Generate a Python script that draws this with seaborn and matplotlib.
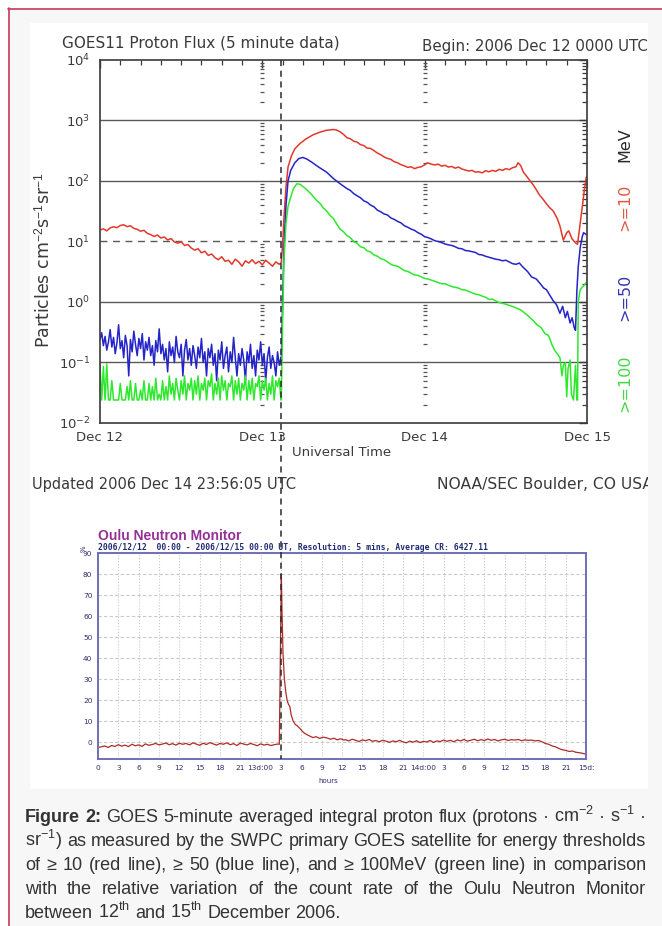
import numpy as np
import pandas as pd
import matplotlib.pyplot as plt
import seaborn as sns
from matplotlib.lines import Line2D
from matplotlib.patches import Rectangle
from matplotlib.ticker import FixedLocator, MultipleLocator, LogLocator, NullFormatter

W, H = 662, 926

# ---------------- data (hours after 2006-12-12 00:00 UT) ----------------
flare_hour = 26.8
pre_hours = np.arange(0, 27, 0.5)      # coarse pre-flare samples
pre_fine = np.arange(0, 27, 0.25)      # finer pre-flare samples

# GOES >=10 MeV, >=50 MeV, >=100 MeV  (particles cm-2 s-1 sr-1)
red_pre = [15.5, 16.2, 15.0, 16.8, 17.5, 16.9, 18.4, 18.9, 17.6, 18.2, 16.5, 15.9, 14.8, 15.3,
           13.6, 13.0, 12.1, 12.8, 11.4, 11.9, 10.6, 11.2, 9.8, 9.4, 9.9, 8.6, 8.9, 7.8, 7.2, 7.6,
           6.5, 6.9, 5.9, 6.2, 5.4, 5.0, 5.6, 4.7, 4.9, 4.2, 5.1, 4.6, 3.9, 4.8, 4.4, 5.0, 4.3, 4.7,
           4.1, 4.9, 4.4, 3.9, 4.6, 4.2]
blue_pre = [0.24, 0.31, 0.19, 0.27, 0.16, 0.22, 0.35, 0.18, 0.26, 0.14, 0.21, 0.42, 0.17, 0.23,
            0.12, 0.28, 0.19, 0.06, 0.24, 0.15, 0.33, 0.20, 0.13, 0.25, 0.17, 0.30, 0.11, 0.22,
            0.16, 0.26, 0.13, 0.19, 0.09, 0.23, 0.15, 0.36, 0.14, 0.20, 0.11, 0.17, 0.07, 0.22,
            0.13, 0.18, 0.10, 0.27, 0.15, 0.12, 0.20, 0.06, 0.16, 0.24, 0.11, 0.17, 0.09, 0.19,
            0.13, 0.08, 0.18, 0.12, 0.25, 0.10, 0.15, 0.06, 0.17, 0.12, 0.20, 0.09, 0.14, 0.05,
            0.16, 0.11, 0.22, 0.08, 0.13, 0.18, 0.07, 0.15, 0.10, 0.26, 0.12, 0.06, 0.14, 0.09,
            0.17, 0.11, 0.05, 0.15, 0.10, 0.20, 0.08, 0.13, 0.06, 0.16, 0.11, 0.22, 0.09, 0.14,
            0.05, 0.12, 0.18, 0.08, 0.13, 0.10, 0.06, 0.15, 0.09, 0.12]
green_pre = [0.09, 0.024, 0.085, 0.024, 0.095, 0.024, 0.024, 0.05, 0.024, 0.024, 0.024, 0.024,
             0.045, 0.024, 0.024, 0.024, 0.04, 0.024, 0.05, 0.024, 0.024, 0.045, 0.024, 0.024,
             0.035, 0.024, 0.05, 0.024,
             0.024, 0.045, 0.024, 0.04, 0.024, 0.055, 0.024, 0.03, 0.024, 0.05, 0.024, 0.04,
             0.024, 0.06, 0.03, 0.045, 0.024, 0.055, 0.035, 0.024, 0.05, 0.03, 0.06, 0.024,
             0.045, 0.035, 0.055, 0.024,
             0.05, 0.03, 0.06, 0.024, 0.045, 0.035, 0.055, 0.024, 0.05, 0.04, 0.065, 0.024,
             0.045, 0.03, 0.055, 0.024, 0.06, 0.035, 0.05, 0.024, 0.045, 0.04, 0.06, 0.024,
             0.05, 0.03, 0.055, 0.024,
             0.045, 0.035, 0.06, 0.024, 0.05, 0.03, 0.055, 0.024, 0.045, 0.04, 0.06, 0.024,
             0.05, 0.035, 0.055, 0.024, 0.045, 0.03, 0.06, 0.024, 0.05, 0.04, 0.055, 0.024]

red_evt_h = [26.8, 27.0, 27.2, 27.5, 27.8, 28.3, 28.8, 29.6, 30.5, 31.5, 32.5, 33.5, 34.5, 35.0,
             35.5, 36.0, 36.5, 37.0, 37.5, 38.0, 38.5, 39.0, 39.5, 40.0, 40.5, 41.0, 41.5, 42.0,
             42.5, 43.0, 43.5, 44.0, 44.5, 45.0, 45.5, 46.0, 46.5, 47.0, 47.5, 48.0, 48.4, 49.0,
             49.5, 50.0, 50.5, 51.0, 51.5, 52.0, 52.5, 53.0, 53.5, 54.0, 54.5, 55.0, 55.5, 56.0,
             56.5, 57.0, 57.5, 58.0, 58.5, 59.0, 59.5, 60.0, 60.5, 61.0, 61.5, 61.8, 62.2, 62.6,
             63.2, 63.6, 64.0, 64.5, 65.0, 65.5, 66.0, 66.5, 67.0, 67.6, 68.0, 68.5, 69.0, 69.3,
             69.8, 70.3, 70.6, 71.0, 71.3, 71.6, 71.9]
red_evt = [4.5, 9, 25, 80, 170, 260, 340, 420, 500, 580, 640, 690, 710, 695,
           650, 590, 520, 500, 455, 440, 400, 385, 350, 345, 318, 290, 272, 250,
           236, 228, 208, 200, 186, 178, 168, 172, 160, 168, 172, 185, 200, 190,
           184, 190, 176, 182, 170, 174, 163, 170, 158, 152, 146, 150, 140, 142,
           136, 148, 142, 150, 144, 156, 150, 160, 154, 166, 172, 200, 180, 140,
           115, 100, 88, 72, 58, 50, 42, 36, 32, 24, 18, 10.5, 14, 15,
           11, 9.5, 9.0, 20, 37, 70, 117]

blue_evt_h = [26.8, 27.0, 27.2, 27.5, 27.8, 28.2, 28.8, 29.4, 30.0, 30.6, 31.3, 32.0, 32.5, 33.5,
              34.5, 35.5, 36.5, 37.0, 37.5, 38.0, 38.5, 39.0, 39.5, 40.0, 40.5, 41.0, 41.5, 42.0,
              42.5, 43.0, 43.5, 44.0, 44.5, 45.0, 45.5, 46.0, 46.5, 47.0, 47.5, 48.0, 48.5, 49.0,
              49.5, 50.0, 50.5, 51.0, 51.5, 52.0, 52.5, 53.0, 53.5, 54.0, 54.5, 55.0, 55.5, 56.0,
              56.5, 57.0, 57.5, 58.0, 58.5, 59.0, 59.5, 60.0, 60.5, 61.0, 61.5, 62.0, 62.5, 63.2,
              63.8, 64.5, 65.1, 65.6, 66.0, 66.5, 67.0, 67.5, 68.0, 68.4, 68.8, 69.1, 69.5, 69.8,
              70.1, 70.3, 70.5, 70.7, 71.0, 71.3, 71.5, 71.9]
blue_evt = [0.1, 1.0, 8, 40, 100, 150, 200, 235, 245, 230, 205, 180, 165, 140,
            110, 90, 75, 70, 62, 57, 53, 47, 44.5, 40, 37.5, 33, 31, 28.5,
            27.5, 24.5, 23.2, 21.5, 20.3, 18.2, 17.2, 16.0, 15.3, 14.0, 13.2, 12.0, 11.6, 11.0,
            10.3, 10.0, 9.6, 9.1, 8.8, 8.6, 8.2, 7.7, 7.6, 7.1, 7.0, 6.8, 6.6, 6.1,
            6.0, 5.7, 5.5, 5.3, 5.1, 5.0, 4.8, 4.9, 4.6, 4.3, 4.2, 4.4, 3.8, 3.2,
            2.6, 2.4, 2.0, 1.7, 1.6, 1.3, 1.05, 0.9, 0.65, 0.85, 0.55, 0.7, 0.45, 0.55,
            0.38, 0.34, 1.5, 3.8, 8, 12, 14, 13]

green_evt_h = [26.8, 27.0, 27.2, 27.5, 27.8, 28.1, 28.6, 29.1, 29.6, 30.2, 31.1, 32.0, 32.5, 33.0,
               33.5, 34.0, 34.5, 35.0, 35.5, 36.0, 36.5, 37.0, 37.5, 38.0, 38.5, 39.0, 39.5, 40.0,
               40.5, 41.0, 41.5, 42.0, 42.5, 43.0, 43.5, 44.0, 44.5, 45.0, 45.5, 46.0, 46.5, 47.0,
               47.5, 48.0, 48.5, 49.0, 49.5, 50.0, 50.5, 51.0, 51.5, 52.0, 52.5, 53.0, 53.5, 54.0,
               54.5, 55.0, 55.5, 56.0, 56.5, 57.0, 57.5, 58.0, 58.5, 59.0, 59.5, 60.0, 60.5, 61.0,
               61.5, 62.0, 62.5, 63.2, 64.0, 64.6, 65.2, 65.8, 66.3, 66.8, 67.2, 67.6, 68.0, 68.3,
               68.5, 68.8, 69.0, 69.2, 69.5, 69.7, 70.0, 70.3, 70.5, 70.6, 70.7, 71.0, 71.4, 71.9]
green_evt = [0.024, 0.5, 5, 20, 38, 50, 75, 90, 88, 78, 63, 48, 43, 36,
             32, 27, 24, 19.5, 16, 14.5, 12.5, 11.6, 10, 9.4, 8.2, 7.9, 7.0, 6.7,
             6.0, 5.7, 5.2, 5.0, 4.6, 4.2, 4.0, 3.9, 3.6, 3.3, 3.2, 3.0, 2.8, 2.75,
             2.6, 2.45, 2.4, 2.3, 2.2, 2.1, 2.0, 2.0, 1.9, 1.8, 1.75, 1.7, 1.6, 1.58,
             1.5, 1.42, 1.35, 1.32, 1.25, 1.2, 1.1, 1.12, 1.05, 0.98, 0.95, 0.92, 0.88, 0.84,
             0.8, 0.76, 0.7, 0.6, 0.5, 0.42, 0.38, 0.3, 0.28, 0.2, 0.16, 0.14, 0.12, 0.06,
             0.09, 0.1, 0.027, 0.08, 0.11, 0.03, 0.024, 0.09, 0.024, 0.024, 1.0, 1.6, 1.8, 2.1]

# Oulu neutron monitor, relative variation of count rate (%)
oulu_pre = [-2.5, -2.2, -1.8, -2.5, -1.6, -2.0, -1.2, -1.9, -1.4, -2.1, -1.0, -1.7, -1.3, -2.0,
            -0.8, -1.5, -1.1, -0.6, -1.3, -0.9, -0.4, -1.2, -0.7, -1.4, -0.5, -1.0, -0.6, -1.3,
            -0.3, -0.9, -1.5, -0.5, -1.1, -0.2, -0.8, -1.4, -0.6, -1.0, -0.3, -1.2, -0.7, -1.6,
            -0.4, -0.9, -1.3, -0.6, -1.1, -1.7, -0.8, -1.4, -1.0, -1.6, -1.2, -0.9]
oulu_evt_h = [26.75, 26.85, 26.95, 27.05, 27.15, 27.3, 27.5, 27.7, 27.9, 28.1, 28.3, 28.5, 28.8,
              29.1, 29.5, 29.8, 30.2, 30.5, 30.8, 31.2, 31.7, 32.2, 32.7, 33.2, 33.8, 34.3, 34.8,
              35.3, 35.8, 36.3]
oulu_evt = [-1.0, 25, 55, 80, 62, 42, 30, 24, 20, 18, 17, 13, 10,
            8.5, 7.5, 6.5, 5, 4.2, 3.6, 3.0, 2.2, 2.6, 1.8, 2.4, 2.0, 1.4, 1.9,
            1.1, 1.6, 1.0]
oulu_post_h = np.arange(36.5, 72.01, 0.5)
oulu_post = [1.2, 0.6, 1.4, 0.9, 0.3, 1.1, 0.7, 1.3, 0.4, 0.8, 0.2, 0.9, 0.5, -0.1, 0.6, 0.2,
             0.9, 0.1, -0.3, 0.5, 0.0, 0.7, -0.2, 0.4, 0.1, 0.8, -0.1, 0.6, 0.3, 1.0, 0.4, 0.9,
             0.2, 1.1, 0.6, 1.3, 0.5, 0.9, 1.4, 0.7, 1.2, 0.8, 1.5, 0.9, 1.3, 0.6, 1.1, 1.4,
             0.8, 1.2, 1.0, 1.3, 0.7, 1.1, 0.9, 1.0, 0.6, 0.8, 0.2, -0.6, -1.0, -1.8, -2.2,
             -3.0, -3.6, -3.9, -4.4, -4.2, -4.8, -5.0, -5.3, -5.8]

day_labels = ["Dec 12", "Dec 13", "Dec 14", "Dec 15"]
channel_colors = {">=10": "#e2382a", ">=50": "#2424c8", ">=100": "#2ee82e"}

goes = pd.concat([
    pd.DataFrame({"hour": np.r_[pre_hours, red_evt_h], "flux": np.r_[red_pre, red_evt], "ch": ">=10"}),
    pd.DataFrame({"hour": np.r_[pre_fine, blue_evt_h], "flux": np.r_[blue_pre, blue_evt], "ch": ">=50"}),
    pd.DataFrame({"hour": np.r_[pre_fine, green_evt_h], "flux": np.r_[green_pre, green_evt], "ch": ">=100"}),
])
oulu = pd.DataFrame({"hour": np.r_[pre_hours, oulu_evt_h, oulu_post_h],
                     "var": np.r_[oulu_pre, oulu_evt, oulu_post]})

# ---------------- figure ----------------
sns.set_theme(style="white")
plt.rcParams["font.family"] = ["DejaVu Sans"]
plt.rcParams["mathtext.fontset"] = "custom"
plt.rcParams["mathtext.rm"] = "Liberation Sans"
plt.rcParams["mathtext.it"] = "Liberation Sans:italic"
plt.rcParams["mathtext.bf"] = "Liberation Sans:bold"


def rect(x0, y0, x1, y1):
    return [x0 / W, 1 - y1 / H, (x1 - x0) / W, (y1 - y0) / H]


fig = plt.figure(figsize=(W / 100, H / 100), dpi=100, facecolor="white")
fig.add_artist(Rectangle((8 / W, 0), 1, 1 - 8 / H, transform=fig.transFigure,
                         facecolor="#f7f7f7", edgecolor="none", zorder=-10))
panel = Rectangle((30 / W, 1 - 789 / H), (648 - 30) / W, (789 - 23) / H, transform=fig.transFigure,
                  facecolor="white", edgecolor="none", zorder=-9)
fig.add_artist(panel)
border = "#c53a5c"
fig.add_artist(Line2D([8.5 / W, 8.5 / W], [0, 1 - 8 / H], color=border, lw=1.2, transform=fig.transFigure))
fig.add_artist(Line2D([8 / W, 1], [1 - 8.5 / H, 1 - 8.5 / H], color=border, lw=1.2, transform=fig.transFigure))

# ---- GOES panel ----
ax1 = fig.add_axes(rect(100, 60, 587, 423))
sns.lineplot(data=goes, x="hour", y="flux", hue="ch", palette=channel_colors, estimator=None,
             lw=1.1, legend=False, ax=ax1)
ax1.set_yscale("log")
ax1.set_xlim(0, 72)
ax1.set_ylim(1e-2, 1e4)
gcol = "#3a3a3a"
for v in [1e3, 1e2, 1e0, 1e-1]:
    ax1.axhline(v, color="#5a5a5a", lw=1.0, zorder=0)
ax1.axhline(1e1, color="#5a5a5a", lw=1.0, ls=(0, (5, 4)), zorder=0)

minor_vals = [m * 10.0 ** k for k in range(-2, 4) for m in range(2, 10)]
for d in [24, 48]:
    ax1.plot([d] * len(minor_vals), minor_vals, ls="none", marker="_", ms=3.2, mew=0.9,
             color="#555555", zorder=1)

ax1.xaxis.set_major_locator(FixedLocator([0, 24, 48, 72]))
ax1.set_xticklabels(day_labels)
ax1.xaxis.set_minor_locator(MultipleLocator(3))
ax1.yaxis.set_major_locator(LogLocator(base=10, numticks=10))
ax1.yaxis.set_minor_locator(LogLocator(base=10, subs=np.arange(2, 10), numticks=20))
ax1.yaxis.set_minor_formatter(NullFormatter())
ax1.tick_params(which="both", direction="in", top=True, right=True, colors=gcol, labelsize=9.5)
ax1.tick_params(which="major", length=6, width=1)
ax1.tick_params(which="minor", length=3.5, width=0.9)
ax1.tick_params(axis="y", pad=7)
ax1.tick_params(axis="x", pad=6)
ax1.set_xlabel("")
ax1.set_ylabel("")
for s in ax1.spines.values():
    s.set_color(gcol)
    s.set_linewidth(1.2)

fig.text(62 / W, 1 - 47 / H, "GOES11 Proton Flux (5 minute data)", fontsize=11, color=gcol, va="baseline")
fig.text(648 / W, 1 - 51 / H, "Begin: 2006 Dec 12 0000 UTC", fontsize=10.8, color=gcol, va="baseline", ha="right")
fig.text(43 / W, 1 - 260 / H, "Particles cm$^{-2}$s$^{-1}$sr$^{-1}$", rotation=90, fontsize=12.5,
         color=gcol, ha="center", va="center")
for lab, yy, col in [("MeV", 145, "#2a2a2a"), (">=10", 207, "#e4583f"), (">=50", 297, "#3535b0"),
                     (">=100", 383, "#40d840")]:
    fig.text(625 / W, 1 - yy / H, lab, rotation=90, fontsize=11.5, color=col, ha="center", va="center")
fig.text(342 / W, 1 - 452 / H, "Universal Time", fontsize=9.5, color=gcol, ha="center", va="center")
fig.text(32 / W, 1 - 489 / H, "Updated 2006 Dec 14 23:56:05 UTC", fontsize=10.5, color=gcol, va="baseline")
t = fig.text(437 / W, 1 - 489 / H, "NOAA/SEC Boulder, CO USA", fontsize=11.2, color=gcol, va="baseline")
t.set_clip_path(panel)

# ---- Oulu panel ----
ax2 = fig.add_axes(rect(98, 553, 586, 759))
sns.lineplot(data=oulu, x="hour", y="var", color="#b02a2a", lw=0.9, estimator=None, ax=ax2)
ax2.set_xlim(0, 72)
ax2.set_ylim(-8, 90)
xt = list(range(0, 73, 3))
xl = []
for h in xt:
    if h == 24:
        xl.append("13d:00")
    elif h == 48:
        xl.append("14d:00")
    elif h == 72:
        xl.append("15d:")
    else:
        xl.append(str(h % 24))
ax2.set_xticks(xt)
ax2.set_xticklabels(xl)
ax2.set_yticks(range(0, 91, 10))
ncol = "#2d2d6e"
ax2.tick_params(length=0, labelsize=5.3, colors=ncol, pad=4)
ax2.grid(True, axis="x", color="#c9c9c9", ls=":", lw=0.8)
ax2.grid(True, axis="y", color="#c9c9c9", ls=(0, (3, 2)), lw=0.8)
ax2.set_xlabel("hours", fontsize=5, color=ncol, labelpad=3)
ax2.xaxis.set_label_coords((328 - 98) / (586 - 98), -0.09)
ax2.set_ylabel("")
for s in ax2.spines.values():
    s.set_color("#6f6fb5")
    s.set_linewidth(1.4)
fig.text(98 / W, 1 - 540 / H, "Oulu Neutron Monitor", fontsize=10, fontweight="bold",
         color="#962f96", family=["Liberation Sans", "DejaVu Sans"], va="baseline")
fig.text(98 / W, 1 - 550 / H,
         "2006/12/12  00:00 - 2006/12/15 00:00 UT, Resolution: 5 mins, Average CR: 6427.11",
         fontsize=5.8, fontweight="bold", color="#1f2a72", family=["DejaVu Sans Mono"], va="baseline")
fig.text(84 / W, 1 - 549 / H, "%", fontsize=5, rotation=90, color=ncol, ha="center", va="center")

# flare onset line through both panels
xf = ax1.transData.transform((flare_hour, 1.0))[0] / W
fig.add_artist(Line2D([xf, xf], [1 - 60 / H, 1 - 759 / H], color="#2a2a2a", lw=1.1,
                      ls=(0, (4, 3)), transform=fig.transFigure, zorder=5))

# ---- caption (justified) ----
cap_fs = 13.0
cap_col = "#333333"
cap_fam = ["Liberation Sans", "DejaVu Sans"]
x0, x1 = 25, 646
renderer = fig.canvas.get_renderer()
lines = [
    ("Figure 2: GOES 5-minute averaged integral proton flux (protons · cm$^{-2}$ · s$^{-1}$ ·", 2, True),
    ("sr$^{-1}$) as measured by the SWPC primary GOES satellite for energy thresholds", 0, True),
    ("of ≥ 10 (red line), ≥ 50 (blue line), and ≥ 100MeV (green line) in comparison", 0, True),
    ("with the relative variation of the count rate of the Oulu Neutron Monitor", 0, True),
    ("between 12$^{\\mathrm{th}}$ and 15$^{\\mathrm{th}}$ December 2006.", 0, False),
]
baselines = [822, 846, 870, 894, 918]
for (txt, nbold, just), yb in zip(lines, baselines):
    words = txt.split(" ")
    objs = []
    for i, w in enumerate(words):
        objs.append(fig.text(0, 1 - yb / H, w, fontsize=cap_fs, color=cap_col, family=cap_fam,
                             fontweight="bold" if i < nbold else "normal", va="baseline"))
    widths = [o.get_window_extent(renderer).width for o in objs]
    gap = (x1 - x0 - sum(widths)) / (len(objs) - 1) if just else cap_fs * 100 / 72 * 0.278
    x = x0
    for o, wd in zip(objs, widths):
        o.set_x(x / W)
        x += wd + gap

fig.savefig("out.png", dpi=100, facecolor=fig.get_facecolor())
